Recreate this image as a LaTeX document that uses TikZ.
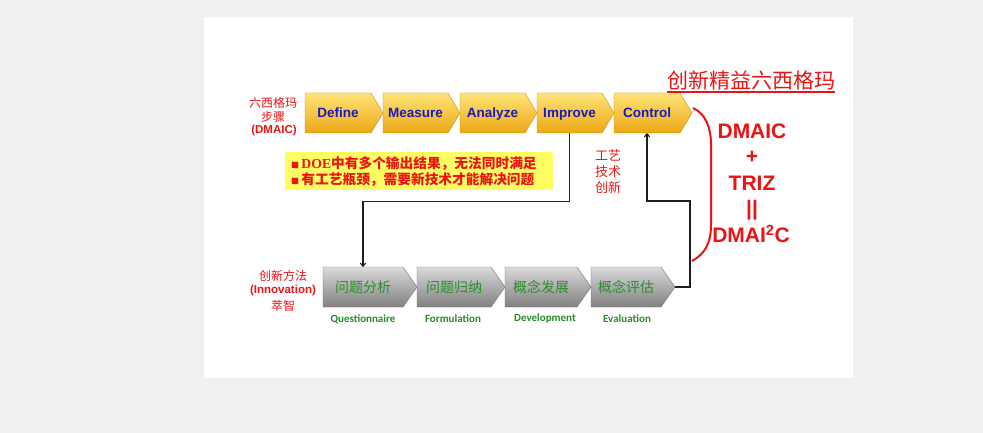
\documentclass[tikz,border=0pt]{standalone}
\usepackage{fontspec}
\setmainfont{Liberation Sans}
\newfontfamily\cjk{Noto Sans CJK SC}
\newfontfamily\calib{Carlito}
\newfontfamily\tnr{Liberation Serif}
\usetikzlibrary{arrows.meta}
\definecolor{bgc}{RGB}{240,240,240}
\definecolor{redc}{RGB}{235,20,20}
\definecolor{bluec}{RGB}{25,25,190}
\definecolor{greenc}{RGB}{40,140,40}
\definecolor{goldtop}{RGB}{255,228,120}
\definecolor{goldbot}{RGB}{236,168,20}
\definecolor{graytop}{RGB}{218,218,218}
\definecolor{graybot}{RGB}{128,128,128}
\definecolor{yellowbox}{RGB}{255,255,100}
\newcommand\chevd{12}
\newcommand\chevron[8]{%
  \path[#6] (#2,#4) -- ({#3-\chevd},#4) -- (#3,{(#4+#5)/2}) -- ({#3-\chevd},#5) -- (#2,#5) -- cycle;
  \node[#7, minimum width={(#3-\chevd-#2)*1pt}, minimum height={(#5-#4)*1pt}, inner sep=0pt] (#1) at ({(#2+#3-\chevd)/2},{(#4+#5)/2}) {#8};
  \coordinate (#1tip) at (#3,{(#4+#5)/2});
}
\tikzset{
  goldshape/.style={top color=goldtop, bottom color=goldbot, draw=goldbot!85!black, line width=0.4pt},
  grayshape/.style={top color=graytop, bottom color=graybot, draw=graybot!90!black, line width=0.4pt},
  goldtext/.style={text=bluec, font=\fontsize{13.5}{14}\selectfont\bfseries, text height=9.7pt, text depth=0pt},
  graytext/.style={text=greenc, font=\cjk\fontsize{14}{15}\selectfont, text height=11pt, text depth=1pt},
  sublabel/.style={text=greenc, font=\calib\bfseries\fontsize{11}{12}\selectfont, inner sep=0pt},
  redlabel/.style={text=redc, align=center, inner sep=0pt},
  conn/.style={draw={rgb,255:red,30;green,30;blue,30}, line width=1.1pt, -{To[length=4pt,width=6pt]}},
  bigred/.style={text=redc, font=\fontsize{21}{22}\selectfont\bfseries, inner sep=0pt},
}
\begin{document}
\begin{tikzpicture}[x=1pt,y=-1pt]
\useasboundingbox (0,0) rectangle (983,433);
\fill[bgc] (0,0) rectangle (983,433);
\fill[white] (204,17) rectangle (853,378);

% top DMAIC chevrons
\renewcommand\chevd{12}
\chevron{define}{305}{383}{93}{133}{goldshape}{goldtext}{Define}
\chevron{measure}{383}{460}{93}{133}{goldshape}{goldtext}{Measure}
\chevron{analyze}{460}{537}{93}{133}{goldshape}{goldtext}{Analyze}
\chevron{improve}{537}{614}{93}{133}{goldshape}{goldtext}{Improve}
\chevron{control}{614}{692}{93}{133}{goldshape}{goldtext}{Control}

% bottom innovation chevrons
\renewcommand\chevd{14}
\chevron{qa}{323}{417}{267}{307}{grayshape}{graytext}{问题分析}
\chevron{qb}{417}{505}{267}{307}{grayshape}{graytext}{问题归纳}
\chevron{qc}{505}{591}{267}{307}{grayshape}{graytext}{概念发展}
\chevron{qd}{591}{675}{267}{307}{grayshape}{graytext}{概念评估}

\node[sublabel] (la) at (363,319) {Questionnaire};
\node[sublabel] (lb) at (453,319) {Formulation};
\node[sublabel] (lc) at (545,319) {Development};
\node[sublabel] (ld) at (627,319) {Evaluation};

% left labels
\node[redlabel, font=\cjk\fontsize{12}{14}\selectfont] (lt1) at (273,103) {六西格玛};
\node[redlabel, font=\cjk\fontsize{12}{14}\selectfont] (lt2) at (273,117) {步骤};
\node[redlabel, font=\fontsize{11.5}{13}\selectfont\bfseries] (lt3) at (274,131) {(DMAIC)};
\node[redlabel, font=\cjk\fontsize{12}{14}\selectfont] (lb1) at (283,276) {创新方法};
\node[redlabel, font=\fontsize{11.5}{13}\selectfont\bfseries] (lb2) at (283,291) {(Innovation)};
\node[redlabel, font=\cjk\fontsize{12}{14}\selectfont] (lb3) at (283,306) {萃智};

% process innovation label
\node[redlabel, font=\cjk\fontsize{13}{17}\selectfont] (proc) at (608,172) {工艺\\[-1pt]技术\\[-1pt]创新};

% yellow box
\node[fill=yellowbox, minimum width=268pt, minimum height=38pt, inner sep=0pt] (ybox) at (419,171) {};
\node[anchor=west, inner sep=0pt, text=redc, font=\cjk\bfseries\fontsize{13.7}{16}\selectfont, align=left] (ytext) at (291,172)
  {{\fontsize{8}{8}\selectfont ■}\,{\tnr\bfseries DOE}中有多个输出结果，无法同时满足\\
   {\fontsize{8}{8}\selectfont ■}\,有工艺瓶颈，需要新技术才能解决问题};

% connectors
\draw[conn] (improve.south) -- ++(0,68) -| (qa.north);
\draw[conn] (qdtip) -| (690,201) -| (control.south);

% title
\node[text=redc, font=\cjk\fontsize{21}{22}\selectfont, inner sep=0pt] (title) at (751,80) {创新精益六西格玛};
\draw[redc, line width=1.2pt] (title.south west) ++(0,2) -- ([yshift=-2pt]title.south east);

% bracket
\draw[redc, line width=2pt] (693,108) .. controls (706,114) and (711,128) .. (711,145) -- (711,225) .. controls (711,243) and (705,254) .. (692,261);

% right formula
\node[bigred] (f1) at (752,131) {DMAIC};
\node[bigred] (f2) at (752,157) {+};
\node[bigred] (f3) at (752,183) {TRIZ};
\node[bigred] (f4) at (752,210) {||};
\node[bigred] (f5) at (751,234) {DMAI\textsuperscript{2}C};
\end{tikzpicture}
\end{document}
